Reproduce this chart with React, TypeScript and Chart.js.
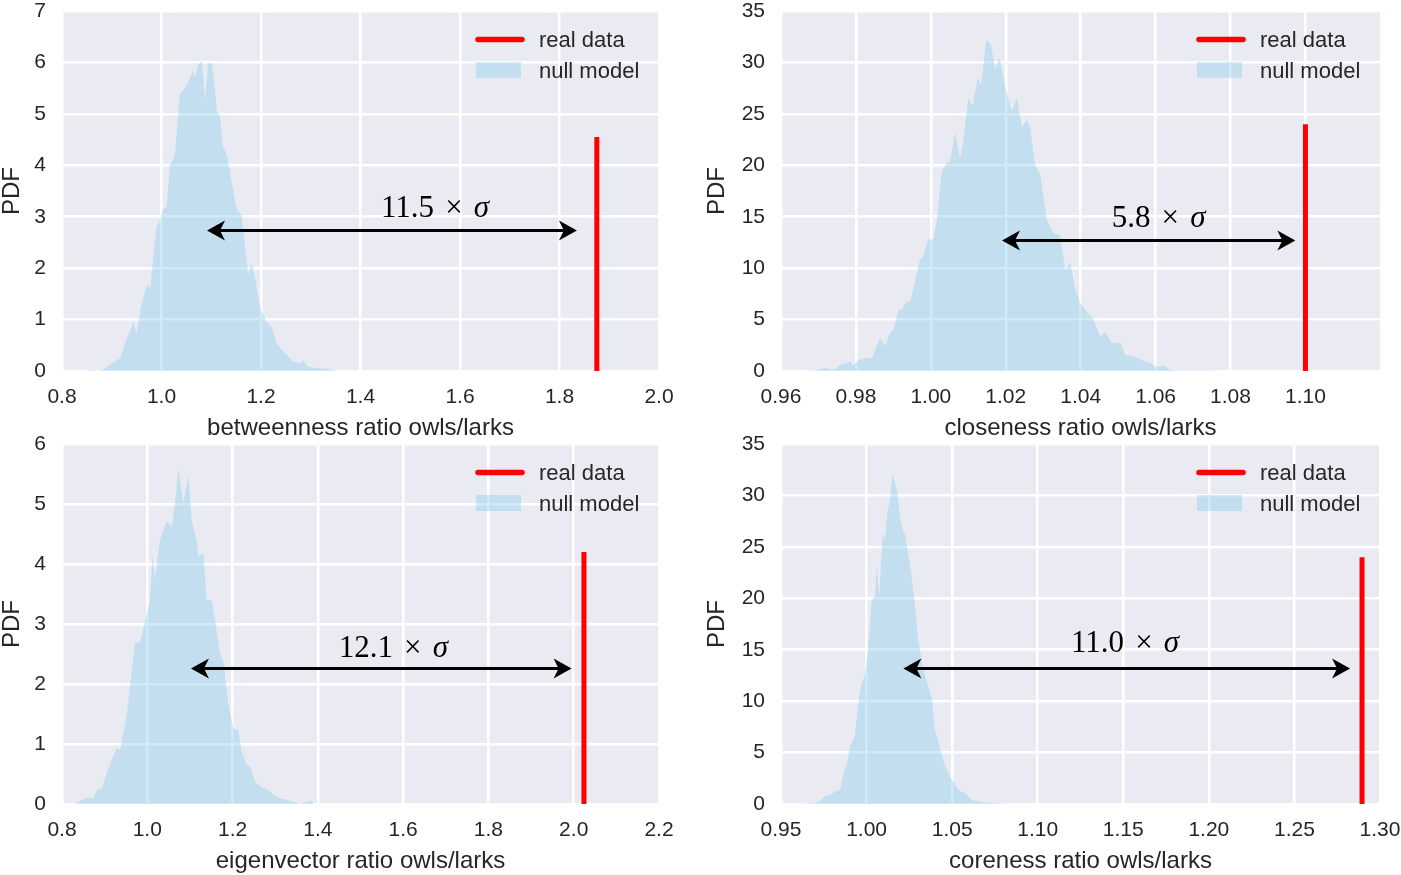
import React, { useEffect, useRef } from "react";
import { Chart, registerables } from "chart.js";

Chart.register(...registerables);

// ---------- data ----------
const betweennessX = [0.840, 0.862, 0.870, 0.883, 0.8965, 0.9166, 0.9266, 0.9433, 0.950, 0.960, 0.9715, 0.977, 0.990, 0.997, 1.0036, 1.0104, 1.017, 1.027, 1.037, 1.047, 1.054, 1.064, 1.067, 1.074, 1.081, 1.0874, 1.094, 1.101, 1.1075, 1.111, 1.1176, 1.124, 1.131, 1.141, 1.151, 1.161, 1.168, 1.1745, 1.181, 1.188, 1.198, 1.2114, 1.2215, 1.2315, 1.245, 1.265, 1.278, 1.285, 1.295, 1.332, 1.352, 1.36];
const betweennessPDF = [0, 0.02, 0, 0.02, 0.12, 0.25, 0.54, 0.95, 0.73, 1.31, 1.70, 1.60, 2.80, 2.93, 3.15, 3.18, 4.0, 4.19, 5.40, 5.48, 5.63, 5.83, 5.70, 5.96, 6.03, 5.29, 6.0, 5.97, 5.49, 5.06, 4.96, 4.35, 4.22, 3.67, 3.14, 3.04, 2.41, 1.88, 2.10, 1.81, 1.24, 0.95, 0.85, 0.54, 0.37, 0.18, 0.15, 0.2, 0.08, 0.04, 0.01, 0];

const closenessX = [0.9646, 0.9686, 0.9713, 0.9726, 0.974, 0.9758, 0.9784, 0.9793, 0.9806, 0.9829, 0.9842, 0.9864, 0.9878, 0.9891, 0.990, 0.9913, 0.9922, 0.9936, 0.9945, 0.9971, 0.998, 0.9993, 1.0007, 1.0016, 1.0029, 1.0043, 1.0051, 1.0065, 1.0078, 1.0087, 1.010, 1.0112, 1.0125, 1.0134, 1.0148, 1.016, 1.0172, 1.0183, 1.0198, 1.0216, 1.023, 1.0243, 1.0256, 1.0265, 1.0278, 1.0292, 1.031, 1.0327, 1.0345, 1.0359, 1.0372, 1.0385, 1.0399, 1.0425, 1.0433, 1.0452, 1.0465, 1.0483, 1.0506, 1.0519, 1.0541, 1.0563, 1.0586, 1.0603, 1.0626, 1.0639, 1.066, 1.070, 1.0764, 1.078];
const closenessPDF = [0, 0.03, 0.26, 0.26, 0.1, 0.58, 0.9, 0.49, 1.07, 1.3, 1.25, 3.2, 2.4, 3.7, 4.0, 5.95, 5.95, 6.76, 6.76, 10.8, 11.2, 12.77, 12.8, 14.7, 19.3, 20.3, 20.3, 23.2, 20.6, 22.5, 26.5, 25.8, 28.5, 27.8, 32.2, 31.8, 29.3, 30.5, 27.7, 25.3, 26.5, 23.7, 24.4, 23.7, 20.1, 19.1, 14.6, 13.4, 13.2, 9.8, 10.6, 8.1, 6.6, 5.4, 5.2, 3.3, 3.8, 2.7, 2.75, 1.55, 1.4, 1.1, 0.75, 0.42, 0.45, 0.1, 0.05, 0.05, 0.03, 0];

const eigenvectorX = [0.83, 0.8462, 0.8618, 0.8735, 0.8813, 0.893, 0.9048, 0.9165, 0.9283, 0.936, 0.9438, 0.9517, 0.9595, 0.9712, 0.9829, 0.9946, 1.0064, 1.0126, 1.018, 1.0298, 1.0455, 1.0572, 1.065, 1.0728, 1.0845, 1.0962, 1.1041, 1.1158, 1.1197, 1.1314, 1.1392, 1.1509, 1.1588, 1.1705, 1.1783, 1.19, 1.2017, 1.2135, 1.2213, 1.2331, 1.2409, 1.2526, 1.2683, 1.2839, 1.2956, 1.3112, 1.327, 1.3504, 1.36, 1.3777, 1.3856, 1.39];
const eigenvectorPDF = [0.01, 0.067, 0.11, 0.094, 0.23, 0.26, 0.51, 0.73, 0.93, 0.9, 1.18, 1.48, 1.96, 2.68, 2.7, 3.04, 3.4, 4.15, 3.76, 4.4, 4.71, 4.62, 5.01, 5.59, 5.01, 5.48, 4.73, 4.4, 4.12, 4.19, 3.4, 3.4, 3.07, 2.51, 2.37, 1.68, 1.26, 1.23, 0.87, 0.65, 0.62, 0.37, 0.28, 0.23, 0.15, 0.09, 0.07, 0.02, 0, 0.05, 0.05, 0];

const corenessX = [0.960, 0.964, 0.9689, 0.9728, 0.9757, 0.9786, 0.9816, 0.9845, 0.9864, 0.9884, 0.9903, 0.9932, 0.9962, 0.9991, 1.001, 1.003, 1.0049, 1.0059, 1.0074, 1.0094, 1.0108, 1.0121, 1.0137, 1.015, 1.0166, 1.018, 1.0195, 1.0211, 1.0225, 1.0244, 1.0264, 1.0283, 1.0302, 1.0332, 1.0361, 1.0381, 1.04, 1.0429, 1.0458, 1.0488, 1.0507, 1.0536, 1.0575, 1.0614, 1.0663, 1.076, 1.0819, 1.085];
const corenessPDF = [0, 0.06, 0.06, 0.29, 0.78, 0.87, 1.2, 1.36, 2.98, 3.79, 5.57, 6.7, 11.1, 12.7, 15.3, 19.8, 20.2, 23.1, 20.2, 26.3, 25.7, 28.3, 29.6, 32.0, 31.3, 30.2, 27.9, 26.6, 26.2, 24.2, 22.1, 19.2, 15.9, 13.0, 11.4, 10.3, 7.2, 5.4, 3.8, 2.65, 2.17, 1.36, 1.04, 0.39, 0.2, 0.07, 0.03, 0];

const nullX = [betweennessX, closenessX, eigenvectorX, corenessX];
const nullPDF = [betweennessPDF, closenessPDF, eigenvectorPDF, corenessPDF];

const realValues = [1.875, 1.10, 2.024, 1.2895];
const realHeights = [4.55, 24.0, 4.2, 24.0];

const arrowY = [2.75, 12.75, 2.26, 13.2];
const arrowStart = [1.0915, 1.019, 1.1025, 1.0215];
const arrowEnd = [1.835, 1.0973, 1.995, 1.2825];
const sigmaValues = ["11.5", "5.8", "12.1", "11.0"];
const sigmaLabelX = [1.5497, 1.0608, 1.577, 1.151];
const sigmaLabelY = [3.0, 14.0, 2.45, 14.8];

const xTitles = [
  "betweenness ratio owls/larks",
  "closeness ratio owls/larks",
  "eigenvector ratio owls/larks",
  "coreness ratio owls/larks",
];
const yTitle = "PDF";
const legendLabels = ["real data", "null model"];

const xMin = [0.8, 0.96, 0.8, 0.95];
const xMax = [2.0, 1.1199, 2.2, 1.3];
const xStep = [0.2, 0.02, 0.2, 0.05];
const xDecimals = [1, 2, 1, 2];
const yMax = [7, 35, 6, 35];
const yStep = [1, 5, 1, 5];

// ---------- layout / style ----------
const layouts = [
  { left: 0, top: 0, w: 700, h: 440, pad: { left: 0, top: 11, right: 41, bottom: 0 }, yW: 62, xH: 69, yTitlePad: 0, xTitlePad: 0 },
  { left: 700, top: 0, w: 701, h: 440, pad: { left: 0, top: 11, right: 21, bottom: 0 }, yW: 81, xH: 69, yTitlePad: 5, xTitlePad: 0 },
  { left: 0, top: 425, w: 700, h: 450, pad: { left: 0, top: 19, right: 41, bottom: 0 }, yW: 62, xH: 71, yTitlePad: 0, xTitlePad: 2 },
  { left: 700, top: 425, w: 701, h: 450, pad: { left: 0, top: 19, right: 21, bottom: 0 }, yW: 81, xH: 71, yTitlePad: 5, xTitlePad: 2 },
];

const SANS = "'Liberation Sans', Arial, Helvetica, sans-serif";
const SERIF = "'Liberation Serif', 'Times New Roman', serif";
const TEXT = "#262626";
const BG = "#EAEAF2";
const FILL = "rgba(135, 206, 235, 0.4)";
const RED = "#ff0000";

const zeroPadding = (s: any) => {
  s.paddingTop = 0;
  s.paddingBottom = 0;
  s.paddingLeft = 0;
  s.paddingRight = 0;
};

const decorPlugin = {
  id: "decor",
  beforeDraw(chart: any) {
    const { ctx, chartArea } = chart;
    const { left, top, right, bottom } = chartArea;
    ctx.save();
    ctx.fillStyle = BG;
    ctx.fillRect(left, top, right - left, bottom - top);
    ctx.restore();
  },
  afterDatasetsDraw(chart: any) {
    const o = chart.options.plugins.decor;
    const { ctx, chartArea } = chart;
    const xs = chart.scales.x;
    const ys = chart.scales.y;

    // double-headed arrow
    const y = Math.round(ys.getPixelForValue(o.arrowY)) + 0.5;
    const x1 = xs.getPixelForValue(o.arrowStart);
    const x2 = xs.getPixelForValue(o.arrowEnd);
    ctx.save();
    ctx.strokeStyle = "#000";
    ctx.fillStyle = "#000";
    ctx.lineWidth = 3;
    ctx.beginPath();
    ctx.moveTo(x1 + 10, y);
    ctx.lineTo(x2 - 10, y);
    ctx.stroke();
    const head = (tx: number, d: number) => {
      ctx.beginPath();
      ctx.moveTo(tx, y);
      ctx.lineTo(tx + d * 18, y - 10);
      ctx.lineTo(tx + d * 13, y);
      ctx.lineTo(tx + d * 18, y + 10);
      ctx.closePath();
      ctx.fill();
    };
    head(x1, 1);
    head(x2, -1);

    // sigma label
    const size = 31;
    const upright = `${size}px ${SERIF}`;
    const italic = `italic ${size}px ${SERIF}`;
    ctx.font = upright;
    const wNum = ctx.measureText(o.sigmaValue).width;
    const wTimes = ctx.measureText("\u00d7").width;
    ctx.font = italic;
    const wSig = ctx.measureText("\u03c3").width;
    const gap = size * 0.36;
    const total = wNum + gap + wTimes + gap + wSig;
    let tx = xs.getPixelForValue(o.labelX) - total / 2;
    const ty = ys.getPixelForValue(o.labelY);
    ctx.textBaseline = "alphabetic";
    ctx.textAlign = "left";
    ctx.font = upright;
    ctx.fillText(o.sigmaValue, tx, ty);
    tx += wNum + gap;
    ctx.fillText("\u00d7", tx, ty);
    tx += wTimes + gap;
    ctx.font = italic;
    ctx.fillText("\u03c3", tx, ty);

    // legend
    const r = chartArea.right;
    const t = chartArea.top;
    const ds = chart.data.datasets;
    ctx.strokeStyle = ds[1].borderColor;
    ctx.lineWidth = 5.5;
    ctx.lineCap = "round";
    ctx.beginPath();
    ctx.moveTo(r - 181, t + 28.5);
    ctx.lineTo(r - 137, t + 28.5);
    ctx.stroke();
    ctx.fillStyle = ds[0].backgroundColor;
    ctx.fillRect(r - 183, t + 51, 45, 16);
    ctx.fillStyle = TEXT;
    ctx.font = `22px ${SANS}`;
    ctx.textBaseline = "middle";
    ctx.fillText(ds[1].label, r - 120, t + 30);
    ctx.fillText(ds[0].label, r - 120, t + 61);
    ctx.restore();
  },
};

function Panel({ index }: { index: number }) {
  const ref = useRef<HTMLCanvasElement>(null);
  const L = layouts[index];
  useEffect(() => {
    const canvas = ref.current;
    if (!canvas) return;
    const fillData = nullX[index].map((x, i) => ({ x, y: nullPDF[index][i] }));
    const realData = [
      { x: realValues[index], y: 0 },
      { x: realValues[index], y: realHeights[index] },
    ];
    const chart = new Chart(canvas, {
      type: "line",
      data: {
        datasets: [
          {
            label: legendLabels[1],
            data: fillData,
            fill: "origin",
            backgroundColor: FILL,
            borderColor: "rgba(0,0,0,0)",
            borderWidth: 0,
            pointRadius: 0,
            tension: 0,
          },
          {
            label: legendLabels[0],
            data: realData,
            fill: false,
            borderColor: RED,
            backgroundColor: RED,
            borderWidth: 5,
            borderCapStyle: "butt",
            pointRadius: 0,
          },
        ],
      },
      options: {
        responsive: false,
        animation: false,
        devicePixelRatio: 1,
        events: [],
        layout: { padding: L.pad },
        plugins: {
          legend: { display: false },
          tooltip: { enabled: false },
          decor: {
            arrowY: arrowY[index],
            arrowStart: arrowStart[index],
            arrowEnd: arrowEnd[index],
            sigmaValue: sigmaValues[index],
            labelX: sigmaLabelX[index],
            labelY: sigmaLabelY[index],
          },
        } as any,
        scales: {
          x: {
            type: "linear",
            min: xMin[index],
            max: xMax[index],
            afterFit: (s: any) => {
              s.height = L.xH;
              zeroPadding(s);
            },
            grid: { color: "#ffffff", lineWidth: 2.5, drawTicks: false },
            border: { display: false },
            ticks: {
              stepSize: xStep[index],
              includeBounds: false,
              maxRotation: 0,
              autoSkip: false,
              padding: 16,
              color: TEXT,
              font: { family: SANS, size: 21, lineHeight: 1 },
              callback: (v: any) => Number(v).toFixed(xDecimals[index]),
            },
            title: {
              display: true,
              text: xTitles[index],
              color: TEXT,
              font: { family: SANS, size: 24, lineHeight: 1 },
              padding: { top: 0, bottom: L.xTitlePad },
            },
          },
          y: {
            type: "linear",
            min: 0,
            max: yMax[index],
            afterFit: (s: any) => {
              s.width = L.yW;
              zeroPadding(s);
            },
            grid: { color: "#ffffff", lineWidth: 2.5, drawTicks: false },
            border: { display: false },
            ticks: {
              stepSize: yStep[index],
              padding: 16,
              color: TEXT,
              font: { family: SANS, size: 21, lineHeight: 1 },
              callback: (v: any) => String(Math.round(Number(v))),
            },
            title: {
              display: true,
              text: yTitle,
              color: TEXT,
              font: { family: SANS, size: 24, lineHeight: 1 },
              padding: { top: L.yTitlePad, bottom: 0 },
            },
          },
        },
      },
      plugins: [decorPlugin],
    } as any);
    return () => chart.destroy();
  }, [index]);
  return (
    <canvas
      ref={ref}
      width={L.w}
      height={L.h}
      style={{ position: "absolute", left: L.left, top: L.top, width: L.w, height: L.h }}
    />
  );
}

export default function App() {
  return (
    <div style={{ position: "absolute", left: 0, top: 0, width: 1401, height: 875, background: "#ffffff" }}>
      {[0, 1, 2, 3].map((i) => (
        <Panel key={i} index={i} />
      ))}
    </div>
  );
}
